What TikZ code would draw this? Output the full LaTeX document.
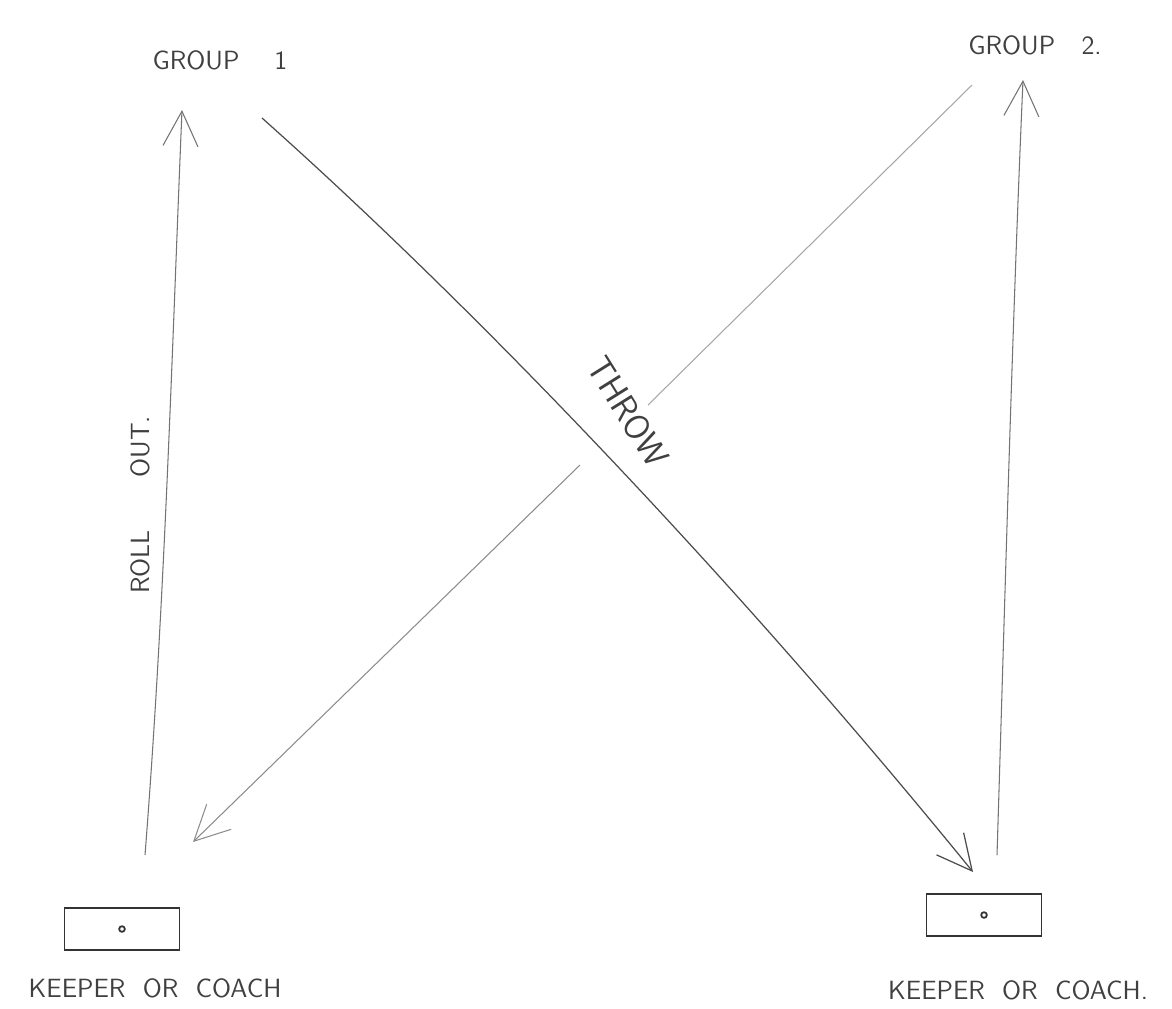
\documentclass[tikz,border=0pt]{standalone}
\usetikzlibrary{arrows.meta,positioning}
\begin{document}
\begin{tikzpicture}[x=0.02cm,y=-0.02cm,>={Straight Barb[length=7mm,width=7mm]},
 font=\sffamily\fontsize{15}{18}\selectfont,
 pencil/.style={black!55,line width=0.6pt},
 hand/.style={text=black!75,inner sep=1pt},
 keeperbox/.style={draw=black!80,line width=0.8pt,minimum width=2.3cm,minimum height=0.84cm}]
\useasboundingbox (0,0) rectangle (1172,1008);
\node[hand] (grpA) at (220,60) {GROUP\quad\ 1};
\node[hand] (grpB) at (1035,45) {GROUP\quad 2.};
\node[keeperbox] (keepA) at (122,929) {};
\node[keeperbox] (keepB) at (984,915) {};
\foreach \k in {keepA,keepB} \draw[black!80,line width=1pt] (\k.center) circle (1.6pt);
\node[hand] (labA) at (155,988) {KEEPER\ \ OR\ \ COACH};
\node[hand] (labB) at (1018,990) {KEEPER\ \ OR\ \ COACH.};
\coordinate (rollS) at (145,855);
\coordinate (rollE) at (182,110);
\coordinate (upS) at (997,855);
\coordinate (upE) at (1023,80);
\coordinate (throwS) at (262,118);
\coordinate (throwE) at (973,872);
\coordinate (backS) at (972,85);
\coordinate (backM) at (648,405);
\coordinate (backN) at (580,465);
\coordinate (backE) at (193,842);
\draw[pencil,->] (rollS) .. controls (165,600) and (172,350) .. (rollE);
\draw[pencil,->] (upS) .. controls (1005,600) and (1012,330) .. (upE);
\draw[black!70,line width=0.7pt,->] (throwS) .. controls (500,330) and (760,610) .. (throwE);
\draw[black!35,line width=0.6pt] (backS) -- (backM);
\draw[black!45,line width=0.6pt,->] (backN) -- (backE);
\node[hand,rotate=90] (roll) at (140,505) {ROLL\qquad OUT.};
\node[hand,rotate=-58,font=\sffamily\fontsize{20}{24}\selectfont] (throw) at (628,412) {THROW};
\end{tikzpicture}
\end{document}
